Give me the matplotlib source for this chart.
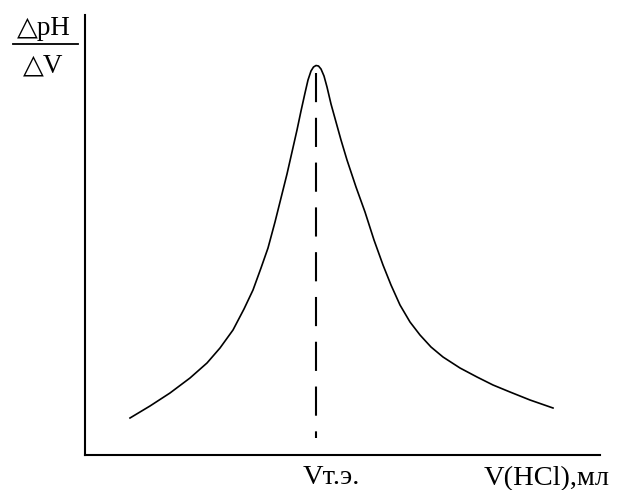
import matplotlib
matplotlib.use("Agg")
import matplotlib.pyplot as plt
from matplotlib.lines import Line2D

# Curve data (arbitrary units: volume vs dpH/dV)
v_left = [45, 65, 85, 105, 122, 135, 148, 159, 168, 176, 183, 190, 196, 202, 207, 212, 216, 220, 223, 226, 228.5, 231]
d_left = [37, 49, 62, 77, 92, 107, 125, 146, 165, 187, 207, 233, 257, 281, 303, 325, 344, 362, 375, 384, 388, 389.5]
v_right = [233.5, 236, 239, 242, 246, 251, 256, 262, 271, 280, 289, 298, 306, 315, 325, 335, 346, 358, 375, 392, 408, 425, 445, 468]
d_right = [389, 386, 379, 368, 351, 333, 315, 295, 268, 243, 215, 190, 170, 150, 133, 120, 108, 98, 87, 78, 70, 63, 55, 47]
v_eq = 231
eq_top = 382
eq_bottom = 17

ylabel_num = "\u25b3pH"
ylabel_den = "\u25b3V"
eq_label = "Vт.э."
xlabel = "V(HCl),мл"

W, H = 619, 490
fig = plt.figure(figsize=(W / 100, H / 100), dpi=100)
ax = fig.add_axes([85 / W, (H - 455) / H, 515 / W, 440 / H])
ax.set_xlim(0, 515)
ax.set_ylim(0, 440)

ax.plot(v_left + v_right, d_left + d_right, color="black", lw=1.2,
        solid_joinstyle="round", antialiased=True)
ax.plot([v_eq, v_eq], [eq_top, eq_bottom], color="black", lw=1.5, linestyle=(0, (14, 7.5)))

for s in ["top", "right"]:
    ax.spines[s].set_visible(False)
for s in ["left", "bottom"]:
    ax.spines[s].set_linewidth(1.5)
    ax.spines[s].set_color("black")
ax.set_xticks([])
ax.set_yticks([])

fam = ["Liberation Serif", "DejaVu Serif", "DejaVu Sans"]

def px(x, y):
    return x / W, 1 - y / H

fig.text(*px(44, 35), ylabel_num, ha="center", va="baseline", fontsize=19.5, family=fam)
fig.add_artist(Line2D([13 / W, 78 / W], [1 - 44 / H, 1 - 44 / H], color="black", lw=1.3))
fig.text(*px(43, 72), ylabel_den, ha="center", va="baseline", fontsize=19.5, family=fam)

fig.text(*px(331, 484), eq_label, ha="center", va="baseline", fontsize=20.5, family=fam)
fig.text(*px(547, 485), xlabel, ha="center", va="baseline", fontsize=20.5, family=fam)

fig.savefig("out.png", dpi=100)
